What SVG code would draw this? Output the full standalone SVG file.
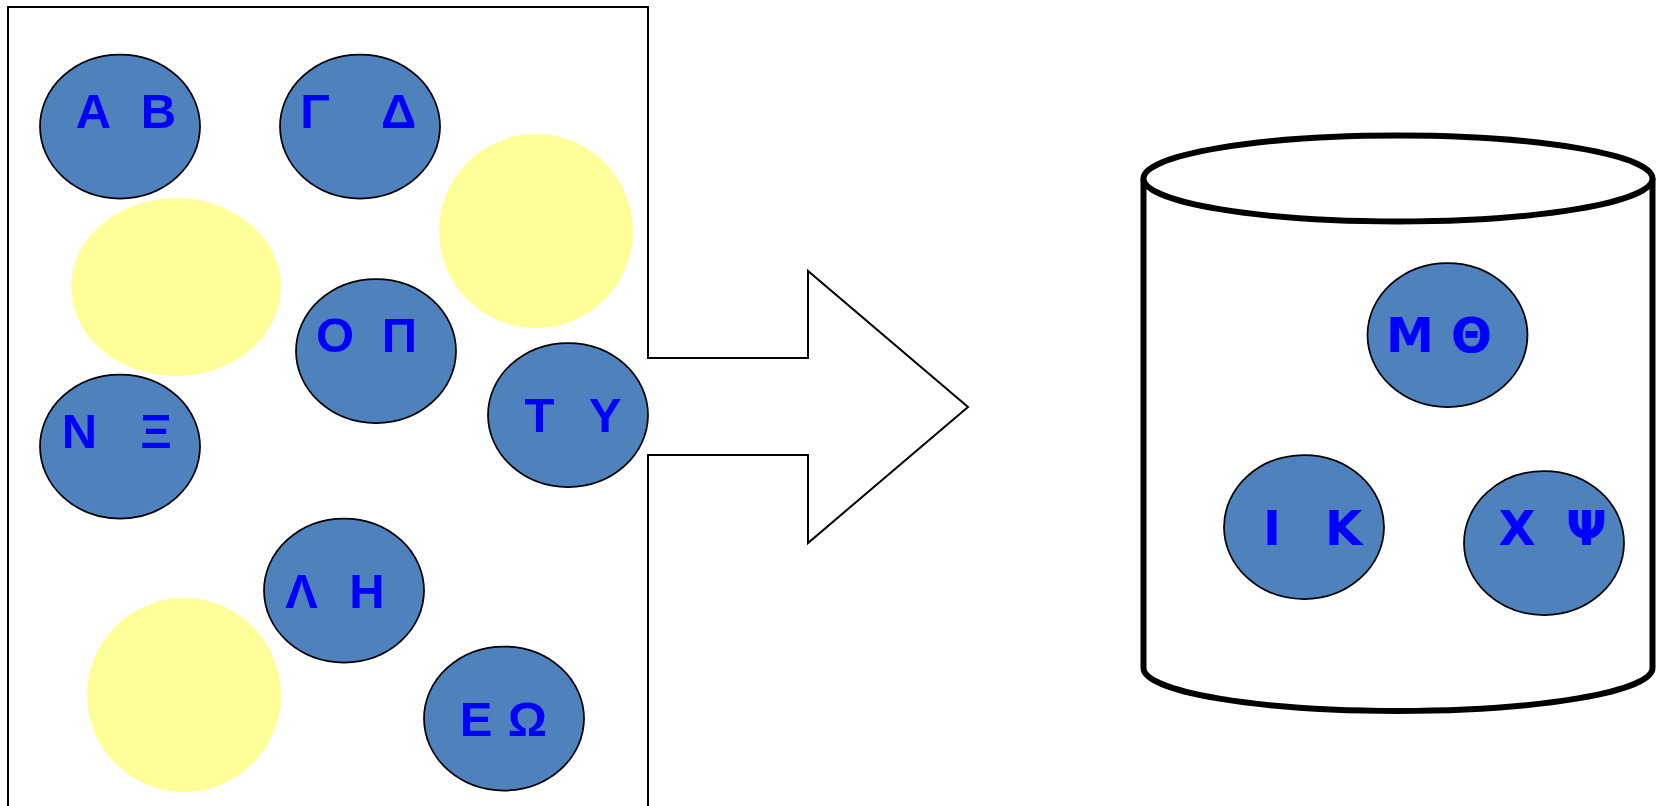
<svg xmlns="http://www.w3.org/2000/svg" width="1656" height="806" viewBox="0 0 1656 806">
  <style>
    .outline { fill: none; stroke: #000; stroke-width: 2; stroke-linejoin: miter; }
    .blob { fill: #FFFF99; stroke: none; }
    .item { fill: #4F81BD; stroke: #000; stroke-width: 1.75; }
    .lbl { font-family: "Liberation Sans", Arial, sans-serif; font-weight: bold; font-size: 49px; fill: #0000FF; text-anchor: middle; }
    .lbl2 { font-family: "DejaVu Sans", Verdana, sans-serif; font-weight: bold; font-size: 48px; fill: #0000FF; text-anchor: middle; }
    .drum { fill: #fff; stroke: #000; stroke-width: 6; stroke-linejoin: round; }
  </style>
  <rect width="1656" height="806" fill="#fff"/>

  <!-- open box on the left joined to the big transfer arrow -->
  <g id="box-arrow">
    <path class="outline" d="M 8,808 V 7 H 648 V 358 H 808 V 271 L 968,407 L 808,543 V 455 H 648 V 808"/>
  </g>

  <!-- pale fillers inside the box -->
  <g id="fillers">
    <ellipse class="blob" cx="176" cy="287" rx="105" ry="89"/>
    <circle class="blob" cx="536" cy="231" r="97"/>
    <circle class="blob" cx="184" cy="695" r="97"/>
  </g>

  <g id="node-ab">
    <ellipse class="item" cx="120" cy="126.5" rx="80" ry="72"/>
    <text class="lbl"><tspan x="93.5" y="128">Α</tspan><tspan x="158.5" y="128">Β</tspan></text>
  </g>
  <g id="node-gd">
    <ellipse class="item" cx="360" cy="126.5" rx="80" ry="72"/>
    <text class="lbl"><tspan x="315" y="128">Γ</tspan><tspan x="398.5" y="128">Δ</tspan></text>
  </g>
  <g id="node-op">
    <ellipse class="item" cx="376" cy="351" rx="80" ry="72"/>
    <text class="lbl"><tspan x="335" y="352">Ο</tspan><tspan x="399.5" y="352">Π</tspan></text>
  </g>
  <g id="node-ty">
    <ellipse class="item" cx="568" cy="415" rx="80" ry="72"/>
    <text class="lbl"><tspan x="539.5" y="432">Τ</tspan><tspan x="605" y="432">Υ</tspan></text>
  </g>
  <g id="node-nx">
    <ellipse class="item" cx="120" cy="446.5" rx="80" ry="72"/>
    <text class="lbl"><tspan x="79.5" y="448">Ν</tspan><tspan x="156" y="448">Ξ</tspan></text>
  </g>
  <g id="node-lh">
    <ellipse class="item" cx="344" cy="590.5" rx="80" ry="72"/>
    <text class="lbl"><tspan x="301.5" y="608">Λ</tspan><tspan x="367" y="608">Η</tspan></text>
  </g>
  <g id="node-eo">
    <ellipse class="item" cx="504" cy="718.5" rx="80" ry="72"/>
    <text class="lbl"><tspan x="476" y="736">Ε</tspan><tspan x="527.5" y="736">Ω</tspan></text>
  </g>

  <!-- storage drum on the right -->
  <g id="drum">
    <path class="drum" d="M 1143.5,178.5 V 668 A 254.5,43 0 0 0 1652.5,668 V 178.5"/>
    <ellipse class="drum" cx="1398" cy="178.5" rx="254.5" ry="43"/>
  </g>

  <g id="node-mth">
    <ellipse class="item" cx="1447.5" cy="335" rx="80" ry="72"/>
    <text class="lbl2"><tspan x="1410" y="352">Μ</tspan><tspan x="1471.5" y="352">Θ</tspan></text>
  </g>
  <g id="node-ik">
    <ellipse class="item" cx="1304" cy="527" rx="80" ry="72"/>
    <text class="lbl2"><tspan x="1272" y="544.5">Ι</tspan><tspan x="1343.5" y="544.5">Κ</tspan></text>
  </g>
  <g id="node-xps">
    <ellipse class="item" cx="1544" cy="543" rx="80" ry="72"/>
    <text class="lbl2"><tspan x="1517" y="544.5">Χ</tspan><tspan x="1586.5" y="544.5">Ψ</tspan></text>
  </g>

  <!-- no separate connectors: the transfer arrow is part of the box outline -->
  <g id="connectors"/>
</svg>
